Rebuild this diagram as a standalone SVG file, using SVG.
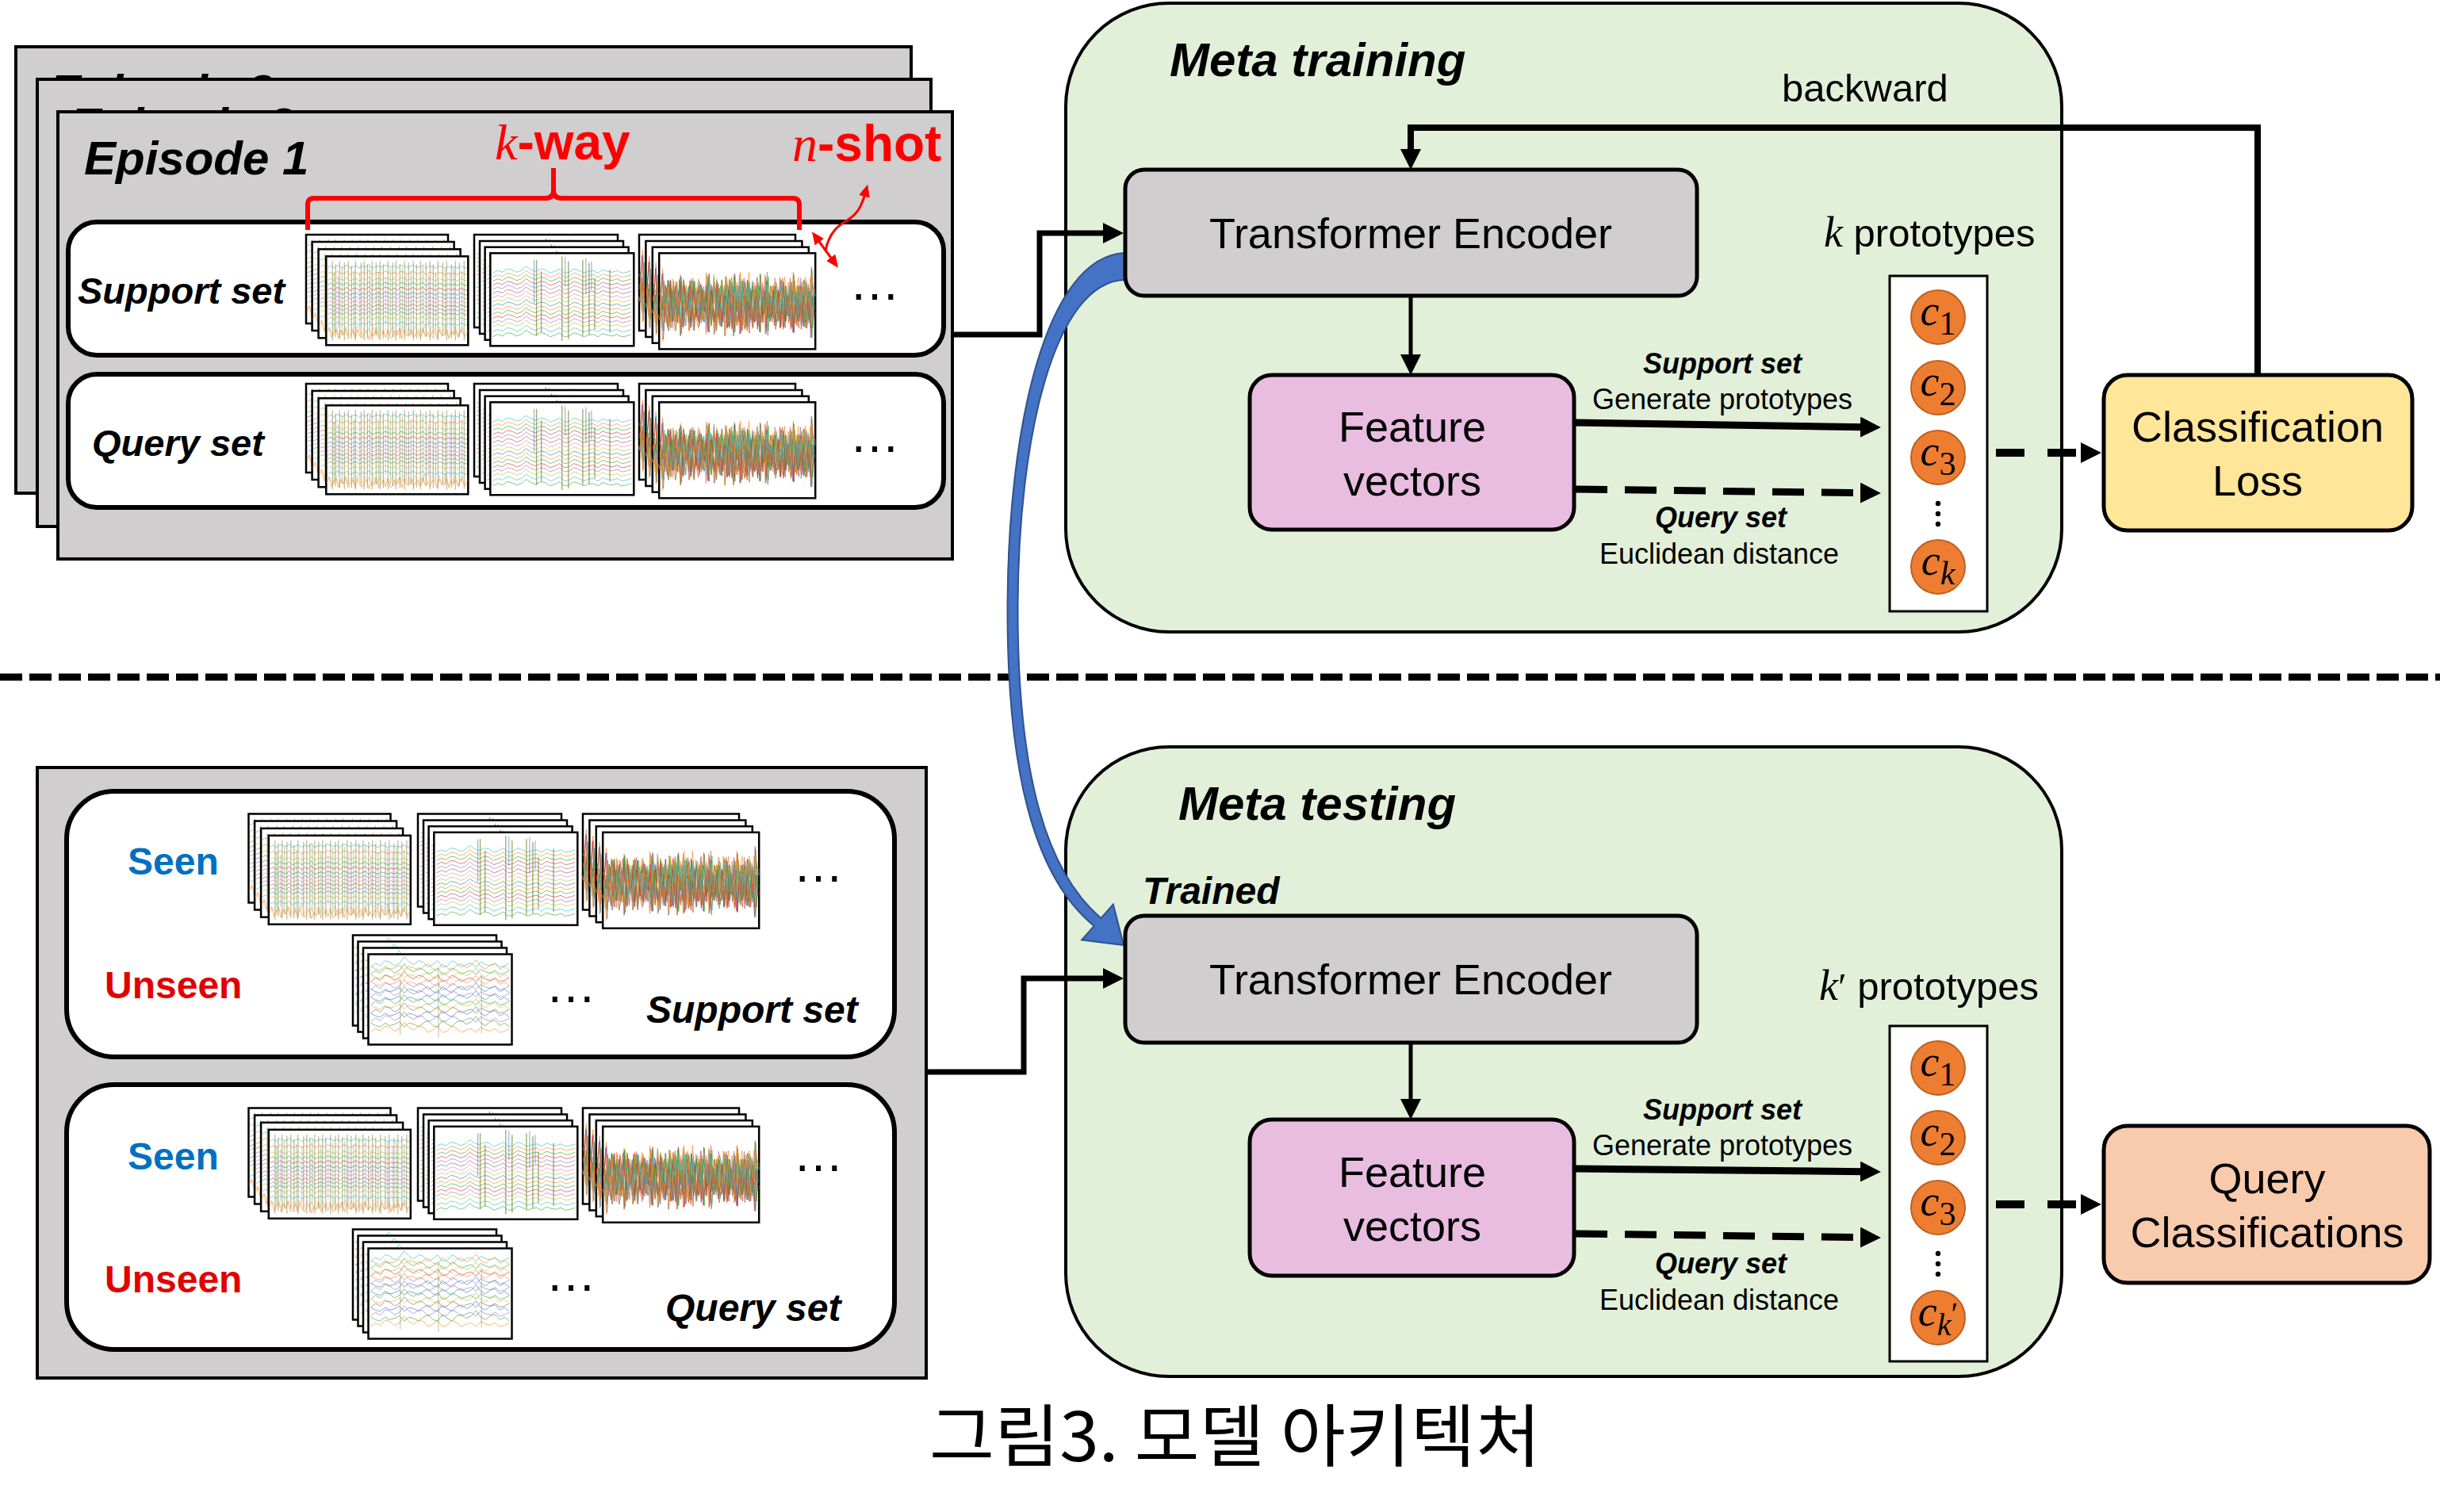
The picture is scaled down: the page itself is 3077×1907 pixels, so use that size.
<svg xmlns="http://www.w3.org/2000/svg" width="3077" height="1907" viewBox="0 0 3077 1907">
<style>
.s{font-family:"Liberation Sans",Arial,sans-serif}
.b{font-family:"Liberation Sans",Arial,sans-serif;font-weight:bold}
.bi{font-family:"Liberation Sans",Arial,sans-serif;font-weight:bold;font-style:italic}
.m{font-family:"Liberation Serif","Times New Roman",serif;font-style:italic;font-weight:normal}
.ep{fill:#d0cece;stroke:#000;stroke-width:4}
.row{fill:#fff;stroke:#000;stroke-width:6}
.panel{fill:#e2f0d9;stroke:#000;stroke-width:4}
.fr{fill:#fff;stroke:#000;stroke-width:2.5}
.te{fill:#d0cece;stroke:#000;stroke-width:5}
.fv{fill:#e8bde0;stroke:#000;stroke-width:5}
.pb{fill:#fff;stroke:#000;stroke-width:3}
.pc{fill:#ed7d31;stroke:#c0601f;stroke-width:2}
.cn{fill:none;stroke:#000}
.w{fill:none;stroke-width:1;stroke-opacity:.6}
</style>
<defs>
<marker id="ah" markerUnits="userSpaceOnUse" markerWidth="26" markerHeight="26" viewBox="0 0 26 26" refX="6" refY="13" orient="auto"><path d="M0,0L26,13L0,26z" fill="#000"/></marker>
<marker id="ra" markerUnits="userSpaceOnUse" markerWidth="16" markerHeight="14" viewBox="0 0 16 14" refX="4" refY="7" orient="auto-start-reverse"><path d="M0,0L16,7L0,14z" fill="#f00"/></marker>
<path id="n1" class="w" vector-effect="non-scaling-stroke" d="M0,0l4,-2 4,3 4,-4 4,2 4,1 4,-3 4,4 4,-2 4,-1 4,3 4,-3 4,2 4,-4 4,5 4,-2 4,-1 4,2 4,-3 4,1 4,2 4,-2 4,3 4,-4 4,1 4,2 4,-1 4,-2 4,3 4,-1 4,-2 4,4 4,-3 4,1 4,2 4,-3 4,1 4,2 4,-2 4,1 4,-1 4,2 4,-3 4,2 4,1"/>
<path id="n2" class="w" vector-effect="non-scaling-stroke" d="M0,0l6,-3 6,2 6,-4 6,1 6,3 6,-2 6,-5 6,4 6,2 6,-3 6,1 6,4 6,-2 6,-3 6,5 6,-1 6,-4 6,2 6,3 6,-2 6,-1 6,3 6,-4 6,2 6,1 6,-2 6,3 6,-1 6,-2"/>
<path id="z1" class="w" vector-effect="non-scaling-stroke" d="M0,0l3,-30 3,45 3,-25 3,-10 3,40 3,-35 3,20 3,-30 3,45 3,-15 3,-20 3,35 3,-40 3,30 3,10 3,-25 3,-10 3,40 3,-30 3,15 3,-35 3,45 3,-20 3,-15 3,30 3,-35 3,40 3,-10 3,-25 3,20 3,-30 3,45 3,-40 3,25 3,5 3,-30 3,35 3,-20 3,-10 3,30 3,-40 3,35 3,-15 3,20 3,-30 3,10 3,25 3,-40 3,30 3,-5 3,-25 3,40 3,-30 3,15 3,-20 3,30 3,-35 3,20 3,5 3,-10"/>
<path id="z2" class="w" vector-effect="non-scaling-stroke" d="M0,0l2,25 2,-40 2,30 2,-10 2,-20 2,35 2,-30 2,15 2,10 2,-35 2,40 2,-20 2,-15 2,30 2,-25 2,5 2,20 2,-35 2,30 2,-10 2,-15 2,25 2,-30 2,35 2,-20 2,-5 2,25 2,-40 2,30 2,5 2,-20 2,-10 2,35 2,-30 2,20 2,-25 2,15 2,10 2,-30 2,35 2,-15 2,-20 2,30 2,-10 2,-15 2,25 2,-35 2,30 2,5 2,-25 2,20 2,-30 2,40 2,-20 2,-10 2,25 2,-30 2,15 2,10 2,-20 2,30 2,-35 2,20 2,5 2,-15 2,25 2,-30 2,10 2,20 2,-35 2,25 2,-5 2,-20 2,30 2,-25 2,15 2,5 2,-30 2,35 2,-20 2,-10 2,25 2,-15 2,20 2,-30 2,10 2,15 2,-25 2,30 2,-20 2,5"/>
<g id="pA">
<use href="#n1" x="2" y="14" stroke="#17becf"/>
<use href="#n1" x="2" y="22" stroke="#ff7f0e"/>
<use href="#n1" x="2" y="30" stroke="#bcbd22"/>
<use href="#n1" x="2" y="36" stroke="#2ca02c"/>
<use href="#n1" x="2" y="42" stroke="#d62728"/>
<use href="#n1" x="2" y="48" stroke="#1f77b4"/>
<use href="#n1" x="2" y="53" stroke="#9467bd"/>
<use href="#n1" x="2" y="58" stroke="#e377c2"/>
<use href="#n1" x="2" y="63" stroke="#8c564b"/>
<use href="#n1" x="2" y="68" stroke="#9467bd"/>
<use href="#n1" x="2" y="73" stroke="#2ca02c"/>
<use href="#n1" x="2" y="79" stroke="#bcbd22"/>
<use href="#n1" x="2" y="86" stroke="#17becf"/>
<use href="#z1" transform="translate(1,98) scale(0.985,0.28)" stroke="#ff7f0e"/>
<use href="#z1" transform="translate(178,94) scale(-0.985,-0.3)" stroke="#ffbb78"/>
<path d="M8,6V106M12,10V102M17,6V104M23,8V106M28,6V100M32,12V104M37,6V106M44,8V102M48,6V106M52,10V104M58,6V106M63,8V100M68,6V106M72,10V104M78,6V106M84,8V102M88,6V106M93,10V104M99,6V106M104,8V100M110,6V106M114,10V104M119,6V106M126,8V102M131,6V106M135,10V104M141,6V106M147,8V100M152,6V106M158,10V104M163,6V106M168,8V102M174,6V106" fill="none" stroke="#8a7a3a" stroke-width="1.2" stroke-opacity=".55"/>
<path d="M10,20V96M20,14V100M35,18V98M55,12V96M66,20V100M81,16V98M96,14V96M107,18V100M122,12V98M138,20V96M150,16V100M161,14V98M171,18V96" fill="none" stroke="#2ca02c" stroke-width="1" stroke-opacity=".45"/>
<path d="M15,24V90M42,20V92M75,26V88M101,22V94M129,24V90M156,20V92" fill="none" stroke="#9467bd" stroke-width="1" stroke-opacity=".4"/>
</g>
<g id="pB">
<use href="#n2" x="3" y="24" stroke="#17becf"/>
<use href="#n2" x="3" y="29" stroke="#ff7f0e"/>
<use href="#n2" x="3" y="34" stroke="#2ca02c"/>
<use href="#n2" x="3" y="39" stroke="#d62728"/>
<use href="#n2" x="3" y="44" stroke="#9467bd"/>
<use href="#n2" x="3" y="49" stroke="#8c564b"/>
<use href="#n2" x="3" y="54" stroke="#e377c2"/>
<use href="#n2" x="3" y="59" stroke="#bcbd22"/>
<use href="#n2" x="3" y="64" stroke="#1f77b4"/>
<use href="#n2" x="3" y="69" stroke="#ff7f0e"/>
<use href="#n2" x="3" y="74" stroke="#2ca02c"/>
<use href="#n2" x="3" y="79" stroke="#d62728"/>
<use href="#n2" x="3" y="84" stroke="#9467bd"/>
<use href="#n2" x="3" y="89" stroke="#bcbd22"/>
<use href="#n2" x="3" y="95" stroke="#17becf"/>
<use href="#n2" x="3" y="101" stroke="#2ca02c"/>
<path d="M58,8V100M64,22V96M90,4V106M98,10V104M116,8V100M124,12V98M131,30V92M150,20V96" fill="none" stroke="#7a8a30" stroke-width="1.4" stroke-opacity=".7"/>
<path d="M55,8V60M94,5V40M120,6V50M127,10V45" fill="none" stroke="#1f77b4" stroke-width="1" stroke-opacity=".6"/>
</g>
<g id="pC">
<use href="#z1" transform="translate(1,60) scale(0.985,1.4)" stroke="#ff7f0e"/>
<use href="#z1" transform="translate(179,58) scale(-0.985,1.3)" stroke="#2ca02c"/>
<use href="#z1" transform="translate(2,60) scale(0.985,-1.35)" stroke="#1f77b4"/>
<use href="#z1" transform="translate(178,62) scale(-0.985,-1.2)" stroke="#d62728"/>
<use href="#z1" transform="translate(1.5,56) scale(0.985,1.1)" stroke="#17becf"/>
<use href="#z1" transform="translate(178.5,60) scale(-0.985,1.45)" stroke="#8c564b"/>
<use href="#z1" transform="translate(2,58) scale(0.985,-1.15)" stroke="#bcbd22"/>
<use href="#z1" transform="translate(177.8,57) scale(-0.985,-1.4)" stroke="#9467bd"/>
<use href="#z1" transform="translate(1,62) scale(0.985,1.25)" stroke="#e377c2"/>
<use href="#z1" transform="translate(179,60) scale(-0.985,-1.3)" stroke="#2ca02c"/>
<use href="#z1" transform="translate(1.2,59) scale(0.985,-1.45)" stroke="#ff7f0e"/>
<use href="#z2" transform="translate(1,58) scale(0.985,1.2)" stroke="#ff7f0e"/>
<use href="#z2" transform="translate(179,60) scale(-0.985,1.1)" stroke="#2ca02c"/>
<use href="#z2" transform="translate(1.5,56) scale(0.985,-1.25)" stroke="#d62728"/>
<use href="#z2" transform="translate(178.5,62) scale(-0.985,-1.15)" stroke="#1f77b4"/>
<use href="#z2" transform="translate(2,60) scale(0.985,0.9)" stroke="#17becf"/>
<use href="#z2" transform="translate(178,58) scale(-0.985,-1.3)" stroke="#ff7f0e"/>
</g>
<g id="pD">
<use href="#n2" transform="translate(3,16) scale(1,1.6)" stroke="#17becf"/>
<use href="#n2" transform="translate(177,20) scale(-1,1.6)" stroke="#ff7f0e"/>
<use href="#n2" transform="translate(3,25) scale(1,1.6)" stroke="#2ca02c"/>
<use href="#n2" transform="translate(177,30) scale(-1,1.6)" stroke="#bcbd22"/>
<use href="#n2" transform="translate(3,34) scale(1,1.6)" stroke="#d62728"/>
<use href="#n2" transform="translate(177,39) scale(-1,1.6)" stroke="#ff7f0e"/>
<use href="#n2" transform="translate(3,44) scale(1,1.6)" stroke="#9467bd"/>
<use href="#n2" transform="translate(177,48) scale(-1,1.6)" stroke="#1f77b4"/>
<use href="#n2" transform="translate(3,53) scale(1,1.6)" stroke="#9467bd"/>
<use href="#n2" transform="translate(177,58) scale(-1,1.6)" stroke="#1f77b4"/>
<use href="#n2" transform="translate(3,63) scale(1,1.6)" stroke="#2ca02c"/>
<use href="#n2" transform="translate(177,68) scale(-1,1.6)" stroke="#bcbd22"/>
<use href="#n2" transform="translate(3,73) scale(1,1.6)" stroke="#8c564b"/>
<use href="#n2" transform="translate(177,78) scale(-1,1.6)" stroke="#1f77b4"/>
<use href="#n2" transform="translate(3,84) scale(1,1.6)" stroke="#9467bd"/>
<use href="#n2" transform="translate(177,90) scale(-1,1.6)" stroke="#2ca02c"/>
<use href="#n2" transform="translate(3,97) scale(1,1.6)" stroke="#ff7f0e"/>
<path d="M40,30V100M88,20V104M142,26V98" fill="none" stroke="#7a8a30" stroke-width="1" stroke-opacity=".5"/>
</g>
<g id="fA"><rect class="fr" width="179" height="112"/><use href="#pA"/></g>
<g id="sA"><use href="#fA"/><use href="#fA" x="7.6" y="9"/><use href="#fA" x="15.6" y="18.3"/><use href="#fA" x="25.3" y="27.3"/></g>
<g id="fB"><rect class="fr" width="181" height="117"/><use href="#pB" transform="scale(1.005,1.045)"/></g>
<g id="sB"><use href="#fB"/><use href="#fB" x="7" y="8"/><use href="#fB" x="13.6" y="15.7"/><use href="#fB" x="20.3" y="23.3"/></g>
<g id="fC"><rect class="fr" width="197" height="121"/><use href="#pC" transform="scale(1.094,1.08)"/></g>
<g id="sC"><use href="#fC"/><use href="#fC" x="8.4" y="8"/><use href="#fC" x="16.8" y="15.7"/><use href="#fC" x="25.2" y="23.3"/></g>
<g id="fD"><rect class="fr" width="181" height="114"/><use href="#pD" transform="scale(1.005,1.018)"/></g>
<g id="sD"><use href="#fD"/><use href="#fD" x="6.5" y="8"/><use href="#fD" x="13" y="16"/><use href="#fD" x="19.5" y="24"/></g>
</defs>
<rect width="3077" height="1907" fill="#fff"/>

<g id="episodes">
<rect class="ep" x="20" y="59" width="1129" height="563"/>
<text class="bi" x="62" y="136" font-size="60">Episode 3</text>
<rect class="ep" x="47" y="100" width="1127" height="564"/>
<text class="bi" x="88" y="178" font-size="60">Episode 2</text>
<rect class="ep" x="73" y="141" width="1128" height="564"/>
<text class="bi" x="106" y="220" font-size="60">Episode 1</text>
<g id="train-support">
<rect class="row" x="86" y="280" width="1104" height="168" rx="36"/>
<text class="bi" x="98" y="383" font-size="47">Support set</text>
<use href="#sA" x="386" y="296"/>
<use href="#sB" x="598" y="296"/>
<use href="#sC" x="806" y="296"/>
<text class="s" x="1103" y="378" font-size="64" text-anchor="middle">…</text>
</g>
<g id="train-query">
<rect class="row" x="86" y="472" width="1104" height="168" rx="36"/>
<text class="bi" x="116" y="575" font-size="47">Query set</text>
<use href="#sA" x="386" y="484"/>
<use href="#sB" x="598" y="484"/>
<use href="#sC" x="806" y="484"/>
<text class="s" x="1103" y="570" font-size="64" text-anchor="middle">…</text>
</g>
<g id="kway" fill="#f00">
<path d="M388,290V258Q388,250 396,250H688Q698,250 698,240V212M698,240Q698,250 708,250H1000Q1008,250 1008,258V290" fill="none" stroke="#f00" stroke-width="6"/>
<text x="624" y="201" font-size="64"><tspan class="m">k</tspan><tspan class="b">-way</tspan></text>
<text x="999" y="203" font-size="64"><tspan class="m">n</tspan><tspan class="b">-shot</tspan></text>
<path d="M1031,302L1050,328" stroke="#f00" stroke-width="3" fill="none" marker-start="url(#ra)" marker-end="url(#ra)"/>
<path d="M1041,316C1046,292 1058,284 1068,278C1080,271 1086,262 1091,244" stroke="#f00" stroke-width="3" fill="none" marker-end="url(#ra)"/>
</g>
</g>

<g id="test-episode">
<rect class="ep" x="47" y="968" width="1121" height="770"/>
<g id="test-support">
<rect class="row" x="84" y="998" width="1044" height="335" rx="60"/>
<text class="b" x="161" y="1103" font-size="48" fill="#0070c0">Seen</text>
<text class="b" x="132" y="1259" font-size="48" fill="#e00000">Unseen</text>
<use href="#sA" x="313.5" y="1026.5"/>
<use href="#sB" x="527" y="1026.5"/>
<use href="#sC" x="735" y="1026.5"/>
<use href="#sD" x="445" y="1179.5"/>
<text class="s" x="1032" y="1112" font-size="64" text-anchor="middle">…</text>
<text class="s" x="720" y="1264" font-size="64" text-anchor="middle">…</text>
<text class="bi" x="815" y="1290" font-size="48">Support set</text>
</g>
<g id="test-query">
<rect class="row" x="84" y="1368" width="1044" height="334" rx="60"/>
<text class="b" x="161" y="1475" font-size="48" fill="#0070c0">Seen</text>
<text class="b" x="132" y="1630" font-size="48" fill="#e00000">Unseen</text>
<use href="#sA" x="313.5" y="1397.5"/>
<use href="#sB" x="527" y="1397.5"/>
<use href="#sC" x="735" y="1397.5"/>
<use href="#sD" x="445" y="1550.5"/>
<text class="s" x="1032" y="1477" font-size="64" text-anchor="middle">…</text>
<text class="s" x="720" y="1628" font-size="64" text-anchor="middle">…</text>
<text class="bi" x="839" y="1666" font-size="48">Query set</text>
</g>
</g>

<line x1="0" y1="854" x2="3077" y2="854" stroke="#000" stroke-width="9" stroke-dasharray="28 9"/>

<g id="meta-training">
<rect class="panel" x="1344" y="4" width="1256" height="793" rx="130"/>
<text class="bi" x="1475" y="96" font-size="60">Meta training</text>
<text class="s" x="2247" y="128" font-size="49">backward</text>
<text class="s" x="2300" y="311" font-size="49"><tspan class="m" font-size="54">k</tspan> prototypes</text>
<text class="bi" x="2172" y="471" font-size="36" text-anchor="middle">Support set</text>
<text class="s" x="2172" y="516" font-size="36" text-anchor="middle">Generate prototypes</text>
<text class="bi" x="2170" y="665" font-size="36" text-anchor="middle">Query set</text>
<text class="s" x="2168" y="711" font-size="36" text-anchor="middle">Euclidean distance</text>
</g>
<g id="meta-testing">
<rect class="panel" x="1344" y="942" width="1256" height="794" rx="130"/>
<text class="bi" x="1486" y="1034" font-size="60">Meta testing</text>
<text class="bi" x="1441" y="1140" font-size="48">Trained</text>
<text class="s" x="2294" y="1261" font-size="49"><tspan class="m" font-size="54">k</tspan><tspan font-family="Liberation Serif, serif">′</tspan> prototypes</text>
<text class="bi" x="2172" y="1412" font-size="36" text-anchor="middle">Support set</text>
<text class="s" x="2172" y="1457" font-size="36" text-anchor="middle">Generate prototypes</text>
<text class="bi" x="2170" y="1606" font-size="36" text-anchor="middle">Query set</text>
<text class="s" x="2168" y="1652" font-size="36" text-anchor="middle">Euclidean distance</text>
</g>

<g id="connectors">
<path class="cn" stroke-width="7" d="M1201,422H1311V294H1397" marker-end="url(#ah)"/>
<path class="cn" stroke-width="7" d="M1168,1352H1291V1234H1397" marker-end="url(#ah)"/>
<path class="cn" stroke-width="5" d="M1779,374V453" marker-end="url(#ah)"/>
<path class="cn" stroke-width="5" d="M1779,1315V1392" marker-end="url(#ah)"/>
<path class="cn" stroke-width="8" d="M2847,473V161H1779V194" marker-end="url(#ah)"/>
<path class="cn" stroke-width="9" d="M1987,533L2352,538.7" marker-end="url(#ah)"/>
<path class="cn" stroke-width="9" stroke-dasharray="40 22" d="M1987,617L2352,621.7" marker-end="url(#ah)"/>
<path class="cn" stroke-width="10" stroke-dasharray="36 29" d="M2517,571H2630" marker-end="url(#ah)"/>
<path class="cn" stroke-width="9" d="M1987,1474L2352,1477.7" marker-end="url(#ah)"/>
<path class="cn" stroke-width="9" stroke-dasharray="40 22" d="M1987,1556L2352,1560.7" marker-end="url(#ah)"/>
<path class="cn" stroke-width="10" stroke-dasharray="36 29" d="M2517,1519H2630" marker-end="url(#ah)"/>
<path d="M1418,319C1320,324 1270.5,535 1270.5,770C1270.5,988 1309,1110 1379.7,1167.9L1364.2,1185.5L1417,1192L1403.8,1140.5L1388.3,1158.1C1321,1100 1283.5,982 1283.5,770C1283.5,550 1330,356 1418,353Z" fill="#4472c4" stroke="#2f528f" stroke-width="2"/>
</g>

<g id="encoder-train">
<rect class="te" x="1419" y="214" width="721" height="159" rx="24"/>
<text class="s" x="1779" y="313" font-size="54" text-anchor="middle">Transformer Encoder</text>
</g>
<g id="features-train">
<rect class="fv" x="1576" y="473" width="409" height="195" rx="28"/>
<text class="s" x="1781" y="557" font-size="54" text-anchor="middle">Feature</text>
<text class="s" x="1781" y="625" font-size="54" text-anchor="middle">vectors</text>
</g>
<g id="prototypes-train">
<rect class="pb" x="2383" y="348" width="123" height="423"/>
<circle class="pc" cx="2444" cy="400" r="34"/>
<circle class="pc" cx="2444" cy="489" r="34"/>
<circle class="pc" cx="2444" cy="577" r="34"/>
<circle class="pc" cx="2444" cy="715" r="34"/>
<text class="m" x="2444" y="410" font-size="54" text-anchor="middle">c<tspan font-style="normal" font-size="42" dy="12">1</tspan></text>
<text class="m" x="2444" y="499" font-size="54" text-anchor="middle">c<tspan font-style="normal" font-size="42" dy="12">2</tspan></text>
<text class="m" x="2444" y="587" font-size="54" text-anchor="middle">c<tspan font-style="normal" font-size="42" dy="12">3</tspan></text>
<text class="m" x="2444" y="725" font-size="54" text-anchor="middle">c<tspan font-size="42" dy="12">k</tspan></text>
<circle cx="2444" cy="635" r="3.2"/><circle cx="2444" cy="648" r="3.2"/><circle cx="2444" cy="661" r="3.2"/>
</g>
<g id="loss">
<rect x="2653" y="473" width="389" height="196" rx="30" fill="#ffe699" stroke="#000" stroke-width="5"/>
<text class="s" x="2847" y="557" font-size="54" text-anchor="middle">Classification</text>
<text class="s" x="2847" y="625" font-size="54" text-anchor="middle">Loss</text>
</g>

<g id="encoder-test">
<rect class="te" x="1419" y="1155" width="721" height="160" rx="24"/>
<text class="s" x="1779" y="1254" font-size="54" text-anchor="middle">Transformer Encoder</text>
</g>
<g id="features-test">
<rect class="fv" x="1576" y="1412" width="409" height="197" rx="28"/>
<text class="s" x="1781" y="1497" font-size="54" text-anchor="middle">Feature</text>
<text class="s" x="1781" y="1565" font-size="54" text-anchor="middle">vectors</text>
</g>
<g id="prototypes-test">
<rect class="pb" x="2383" y="1294" width="123" height="423"/>
<circle class="pc" cx="2444" cy="1347" r="34"/>
<circle class="pc" cx="2444" cy="1435" r="34"/>
<circle class="pc" cx="2444" cy="1523" r="34"/>
<circle class="pc" cx="2444" cy="1662" r="34"/>
<text class="m" x="2444" y="1357" font-size="54" text-anchor="middle">c<tspan font-style="normal" font-size="42" dy="12">1</tspan></text>
<text class="m" x="2444" y="1445" font-size="54" text-anchor="middle">c<tspan font-style="normal" font-size="42" dy="12">2</tspan></text>
<text class="m" x="2444" y="1533" font-size="54" text-anchor="middle">c<tspan font-style="normal" font-size="42" dy="12">3</tspan></text>
<text class="m" x="2444" y="1672" font-size="54" text-anchor="middle">c<tspan font-size="40" dy="12">k</tspan><tspan font-style="normal" font-size="40" dy="-14">′</tspan></text>
<circle cx="2444" cy="1581" r="3.2"/><circle cx="2444" cy="1594" r="3.2"/><circle cx="2444" cy="1607" r="3.2"/>
</g>
<g id="query-classifications">
<rect x="2653" y="1420" width="411" height="198" rx="30" fill="#f8cbad" stroke="#000" stroke-width="5"/>
<text class="s" x="2859" y="1505" font-size="54" text-anchor="middle">Query</text>
<text class="s" x="2859" y="1573" font-size="54" text-anchor="middle">Classifications</text>
</g>

<text x="1172" y="1843" font-family="'Noto Sans CJK KR','Noto Sans CJK SC',sans-serif" font-size="86" textLength="771" lengthAdjust="spacingAndGlyphs">그림3. 모델 아키텍처</text>
</svg>
